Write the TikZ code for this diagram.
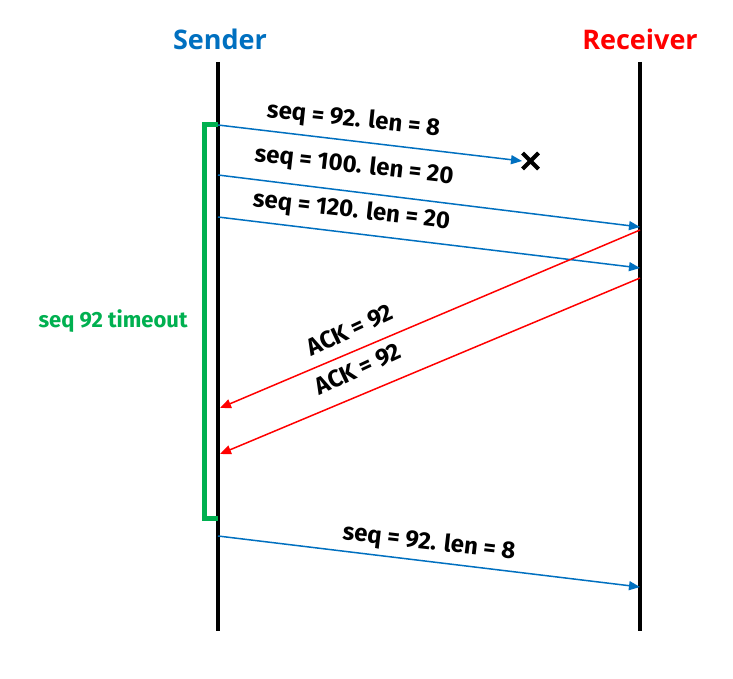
\documentclass[tikz,border=0pt]{standalone}
\usepackage{fontspec}
\setmainfont{Fira Sans}
\newfontfamily\headfont{Open Sans}
\usetikzlibrary{arrows.meta,calc}
\definecolor{sblue}{HTML}{0070C0}
\definecolor{rred}{HTML}{FF0000}
\definecolor{tgreen}{HTML}{00B050}
\tikzset{
  lifeline/.style={line width=4.5pt},
  msg/.style={line width=1.5pt, -{Triangle[length=11pt,width=9pt]}},
  lbl/.style={font=\fontsize{24}{26}\selectfont\bfseries, inner sep=0pt},
  head/.style={font=\headfont\fontsize{27}{30}\selectfont\bfseries, inner sep=0pt}
}
\begin{document}
\begin{tikzpicture}[x=1pt,y=-1pt]
\useasboundingbox[fill=white] (0,0) rectangle (733,679);
% heads
\node[head, text=sblue] (sender) at (220,39) {Sender};
\node[head, text=rred] (receiver) at (640,39) {Receiver};
% lifelines
\coordinate (st) at (218,62);
\coordinate (sb) at (218,631);
\coordinate (rt) at (640,62);
\coordinate (rb) at (640,631);
\draw[lifeline] (st) -- (sb);
\draw[lifeline] (rt) -- (rb);
% timeout bracket
\coordinate (gt) at (218,125);
\coordinate (gb) at (218,518);
\draw[tgreen, line width=5pt, line cap=butt, line join=miter] (gt) -- (204,125) -- (204,518) -- (gb);
\node[lbl, text=tgreen, font=\fontsize{22}{24}\selectfont\bfseries] (tout) at (113,321) {seq 92 timeout};
% messages
\coordinate (m1s) at (218,125); \coordinate (m1e) at (522,161);
\coordinate (m2s) at (218,175); \coordinate (m2e) at (640,227);
\coordinate (m3s) at (218,217); \coordinate (m3e) at (640,268);
\coordinate (a1s) at (640,230); \coordinate (a1e) at (220,408);
\coordinate (a2s) at (640,278); \coordinate (a2e) at (220,454);
\coordinate (m6s) at (218,536); \coordinate (m6e) at (640,587);
\draw[msg, sblue] (m1s) -- (m1e);
\draw[msg, sblue] (m2s) -- (m2e);
\draw[msg, sblue] (m3s) -- (m3e);
\draw[msg, rred] (a1s) -- (a1e);
\draw[msg, rred] (a2s) -- (a2e);
\draw[msg, sblue] (m6s) -- (m6e);
% lost mark
\coordinate (xc) at (530.5,161);
\draw[line width=4pt] ($(xc)+(-8,-8)$) -- ($(xc)+(8,8)$) ($(xc)+(-8,8)$) -- ($(xc)+(8,-8)$);
% labels
\node[lbl, rotate=-6.0] (l1) at (353.5,120) {seq = 92. len = 8};
\node[lbl, rotate=-6.5] (l2) at (354,166) {seq = 100. len = 20};
\node[lbl, rotate=-6.5] (l3) at (351.5,211) {seq = 120. len = 20};
\node[lbl, rotate=25] (l4) at (350,330) {ACK = 92};
\node[lbl, rotate=25] (l5) at (358,369) {ACK = 92};
\node[lbl, rotate=-6.5] (l6) at (429,543) {seq = 92. len = 8};
\end{tikzpicture}
\end{document}
